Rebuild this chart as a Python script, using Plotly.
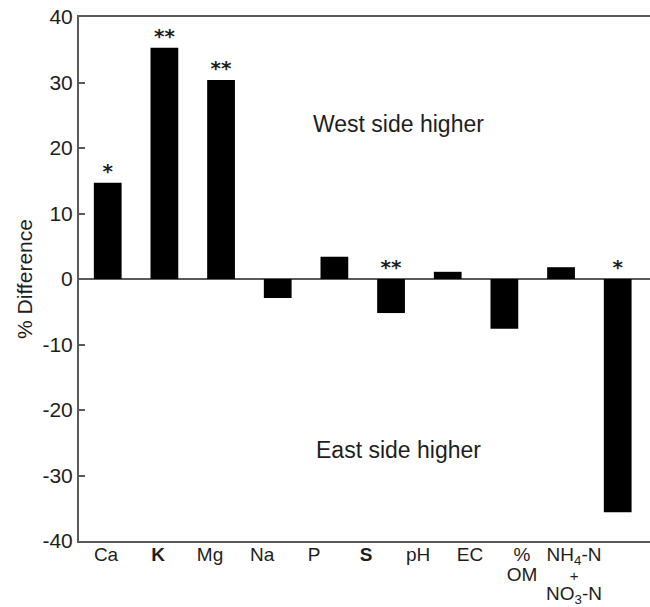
import plotly.graph_objects as go

# Soil properties compared between the two sides
categories = ["Ca", "K", "Mg", "Na", "P", "S", "pH", "EC", "%OM", "NH4-N + NO3-N"]
tick_labels = ["Ca", "<b>K</b>", "Mg", "Na", "P", "<b>S</b>", "pH", "EC", "%<br>OM",
               "NH<sub>4</sub>-N<br>+<br>NO<sub>3</sub>-N"]
pct_difference = [14.7, 35.3, 30.4, -2.9, 3.4, -5.2, 1.1, -7.6, 1.8, -35.6]
significance = ["*", "**", "**", "", "", "**", "", "", "", "*"]
y_ticks = [-40, -30, -20, -10, 0, 10, 20, 30, 40]

FONT = "Liberation Sans, Arial, sans-serif"
LINE = "#5a5a5a"
TEXT = "#1e1e1e"
idx = list(range(len(categories)))


def tight(label):
    # larger glyphs inside a smaller base font give tighter line spacing
    out = []
    for ln in label.split("<br>"):
        size = 15 if ln == "+" else 19
        out.append(f'<span style="font-size:{size}px">{ln}</span>')
    return "<br>".join(out)


fig = go.Figure()
fig.add_trace(go.Bar(
    x=idx, y=pct_difference, width=0.49,
    marker=dict(color="black", line=dict(width=0)),
    hovertext=categories, showlegend=False,
))

# Significance stars just above each bar (or above zero for negative bars)
star_y = [max(v, 0) for v in pct_difference]
fig.add_trace(go.Scatter(
    x=idx, y=star_y, mode="text", text=[f"<b>{s}</b>" for s in significance],
    textposition="top center",
    textfont=dict(family="DejaVu Sans, sans-serif", size=20, color=TEXT),
    showlegend=False, hoverinfo="skip",
))

# Category labels on their own overlaid axis
fig.add_trace(go.Scatter(
    x=idx, y=[None] * len(idx), xaxis="x2", mode="markers",
    showlegend=False, hoverinfo="skip",
))

fig.update_layout(
    width=650, height=607,
    margin=dict(l=79, r=0, t=17, b=66),
    paper_bgcolor="white", plot_bgcolor="white",
    font=dict(family=FONT, size=20, color=TEXT),
    xaxis=dict(
        range=[-0.507, 9.57], showticklabels=False, ticks="",
        showgrid=False, zeroline=False, automargin=False,
        showline=True, linecolor=LINE, linewidth=2, mirror=True,
    ),
    xaxis2=dict(
        overlaying="x", anchor="y", side="bottom", automargin=False,
        range=[-0.52, 10.46], tickmode="array", tickvals=idx,
        ticktext=[tight(t) for t in tick_labels],
        ticks="", showgrid=False, zeroline=False, showline=False,
        ticklabelstandoff=4,
        tickfont=dict(family=FONT, size=15, color=TEXT),
    ),
    yaxis=dict(
        range=[-40, 40], tickmode="array", tickvals=y_ticks,
        ticktext=[str(t) for t in y_ticks], automargin=False,
        ticks="inside", ticklen=6, tickwidth=2, tickcolor=LINE, showgrid=False,
        zeroline=True, zerolinecolor=LINE, zerolinewidth=2,
        showline=True, linecolor=LINE, linewidth=2,
        tickfont=dict(family=FONT, size=21, color=TEXT),
        title=dict(text="% Difference", font=dict(family=FONT, size=21, color=TEXT),
                   standoff=4),
    ),
    annotations=[
        dict(x=0.56, y=23.7, xref="paper", yref="y", text="West side higher",
             showarrow=False, font=dict(family=FONT, size=23, color=TEXT)),
        dict(x=0.56, y=-26.1, xref="paper", yref="y", text="East side higher",
             showarrow=False, font=dict(family=FONT, size=23, color=TEXT)),
    ],
)

fig.write_html("out.html")
